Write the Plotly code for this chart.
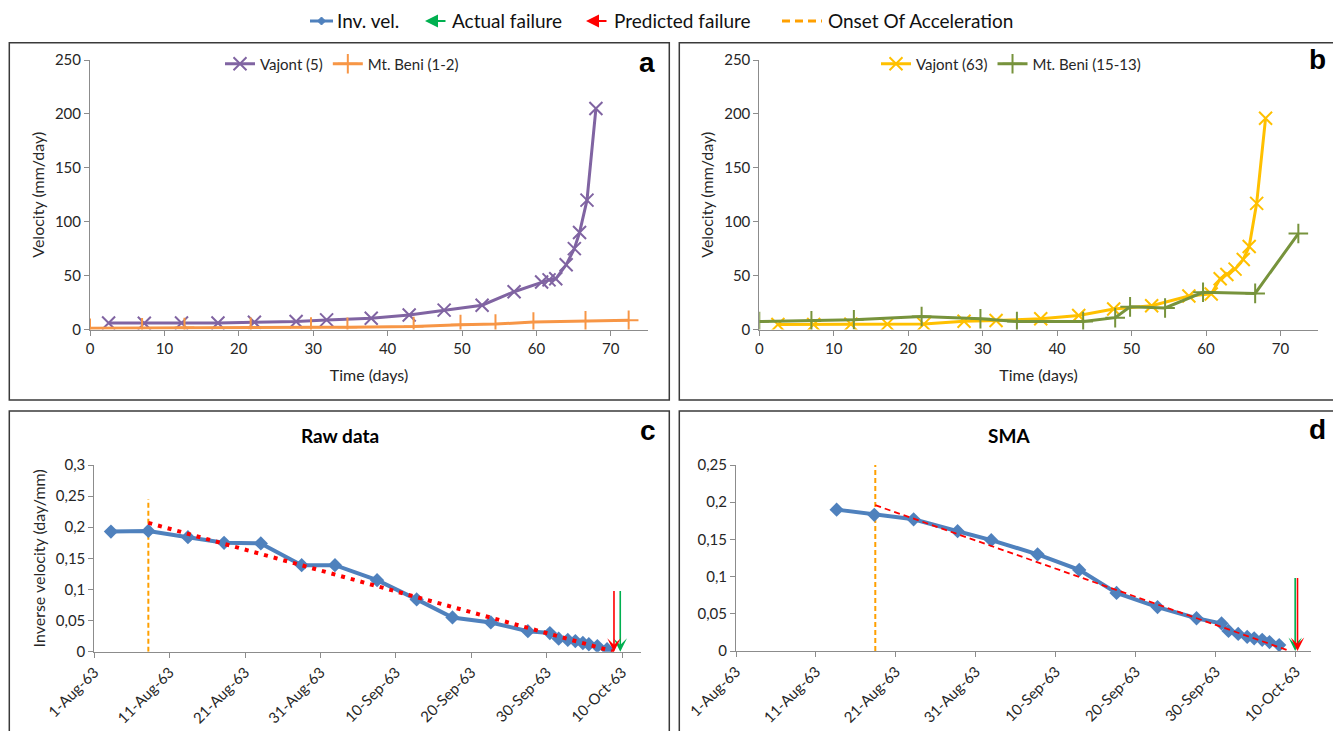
import plotly.graph_objects as go

W, H = 1341, 731
OFF = 8  # page body margin offset


def px(x):
    return (x - OFF) / W


def py(y):
    return 1 - (y - OFF) / H


# ---------------- data ----------------
# Panel a
a_vajont_days = [2.5, 7.3, 12.3, 17.2, 22.1, 27.7, 31.8, 37.8, 42.9, 47.6, 52.7, 57.0,
                 60.7, 61.7, 62.6, 64.0, 65.1, 65.8, 66.8, 68.0]
a_vajont_vel = [6, 5.8, 6, 6, 6.8, 7.4, 8.9, 10.5, 13.5, 18, 22.5, 35,
                44, 46, 47, 60, 75, 90, 120, 205]
a_beni_days = [0, 7.0, 12.7, 21.6, 29.7, 34.6, 43.5, 49.8, 54.5, 59.6, 66.6, 72.4]
a_beni_vel = [1.2, 1.5, 1.8, 2.0, 2.2, 2.0, 2.8, 4.5, 5.0, 7.0, 8.0, 8.5]

# Panel b
b_vajont_days = [2.5, 7.3, 12.3, 17.2, 22.1, 27.5, 31.8, 37.8, 42.9, 47.6, 52.7, 57.7,
                 60.7, 61.9, 62.8, 63.9, 65.0, 65.8, 66.8, 68.0]
b_vajont_vel = [4.6, 4.6, 5, 5, 5, 7.7, 8.3, 10, 13, 19, 22, 31,
                33, 47, 51, 56, 65, 77, 117, 196]
b_beni_days = [0, 7.0, 12.7, 21.8, 29.7, 34.6, 43.5, 47.8, 49.8, 54.5, 59.6, 66.6, 72.4]
b_beni_vel = [7.4, 8, 9, 12, 10, 7.4, 7.4, 11, 21, 20, 34.5, 33.5, 89]

# Panel c (raw data)
c_dates = ["1963-08-03 05:00", "1963-08-08 04:00", "1963-08-13 10:00", "1963-08-18 05:00",
           "1963-08-23 02:00", "1963-08-28 12:00", "1963-09-01 22:00", "1963-09-07 12:00",
           "1963-09-12 18:00", "1963-09-17 12:00", "1963-09-22 14:00", "1963-09-27 12:00",
           "1963-09-30 10:00", "1963-10-01 14:00", "1963-10-02 19:00", "1963-10-03 19:00",
           "1963-10-04 19:00", "1963-10-05 14:00", "1963-10-06 17:00", "1963-10-08 00:00"]
c_inv_vel = [0.193, 0.194, 0.184, 0.175, 0.174, 0.139, 0.139, 0.115, 0.084, 0.055,
             0.047, 0.033, 0.030, 0.021, 0.019, 0.017, 0.014, 0.012, 0.009, 0.004]
c_onset_date = "1963-08-08 04:00"
c_onset_top = 0.245
c_trend_dates = ["1963-08-08 04:00", "1963-10-08 22:00"]
c_trend_vals = [0.207, 0.0]
c_predicted_failure = "1963-10-08 22:00"
c_actual_failure = "1963-10-09 18:00"

# Panel d (SMA)
d_dates = ["1963-08-13 14:00", "1963-08-18 07:00", "1963-08-23 05:00", "1963-08-28 17:00",
           "1963-09-01 22:00", "1963-09-07 17:00", "1963-09-12 22:00", "1963-09-17 14:00",
           "1963-09-22 17:00", "1963-09-27 14:00", "1963-09-30 17:00", "1963-10-01 14:00",
           "1963-10-02 19:00", "1963-10-03 22:00", "1963-10-04 19:00", "1963-10-05 19:00",
           "1963-10-06 17:00", "1963-10-07 22:00"]
d_inv_vel = [0.190, 0.183, 0.177, 0.161, 0.149, 0.130, 0.109, 0.078, 0.059, 0.044,
             0.037, 0.027, 0.023, 0.019, 0.017, 0.015, 0.012, 0.008]
d_onset_date = "1963-08-18 10:00"
d_onset_top = 0.25
d_trend_dates = ["1963-08-18 10:00", "1963-10-09 06:00"]
d_trend_vals = [0.196, 0.0]
d_predicted_failure = "1963-10-10 05:00"
d_actual_failure = "1963-10-09 22:00"

arrow_top = 0.1

# legend labels
top_legend_labels = ["Inv. vel.", "Actual failure", "Predicted failure", "Onset Of Acceleration"]

# ---------------- styles ----------------
PURPLE = "#8064A2"
ORANGE = "#F79646"
YELLOW = "#FFC000"
OLIVE = "#77933C"
BLUE = "#4F81BD"
ONSET = "#FFA000"
RED = "#FF0000"
GREEN = "#00B050"
AXIS = "#8C8C8C"
TXT = "#262626"
FONT = "Lato, 'Liberation Sans', sans-serif"
TICK = 15
TITLE = 16

fig = go.Figure()

# Panel a
fig.add_trace(go.Scatter(x=a_vajont_days, y=a_vajont_vel, name="Vajont (5)", mode="lines+markers",
                         line=dict(color=PURPLE, width=3),
                         marker=dict(symbol="x-thin", size=13, line=dict(color=PURPLE, width=2)),
                         xaxis="x", yaxis="y", legend="legend"))
fig.add_trace(go.Scatter(x=a_beni_days, y=a_beni_vel, name="Mt. Beni (1-2)", mode="lines+markers",
                         line=dict(color=ORANGE, width=3),
                         marker=dict(symbol="cross-thin", size=14, line=dict(color=ORANGE, width=2)),
                         xaxis="x", yaxis="y", legend="legend"))
# Panel b
fig.add_trace(go.Scatter(x=b_vajont_days, y=b_vajont_vel, name="Vajont (63)", mode="lines+markers",
                         line=dict(color=YELLOW, width=3),
                         marker=dict(symbol="x-thin", size=13, line=dict(color=YELLOW, width=2)),
                         xaxis="x2", yaxis="y2", legend="legend2"))
fig.add_trace(go.Scatter(x=b_beni_days, y=b_beni_vel, name="Mt. Beni (15-13)", mode="lines+markers",
                         line=dict(color=OLIVE, width=3),
                         marker=dict(symbol="cross-thin", size=14, line=dict(color=OLIVE, width=2)),
                         xaxis="x2", yaxis="y2", legend="legend2"))

# Panel c
fig.add_trace(go.Scatter(x=[c_onset_date, c_onset_date], y=[0, c_onset_top], mode="lines",
                         line=dict(color=ONSET, width=2, dash="5px,3px"), showlegend=False,
                         xaxis="x3", yaxis="y3"))
fig.add_trace(go.Scatter(x=c_dates, y=c_inv_vel, mode="lines+markers", name="Inv. vel.",
                         line=dict(color=BLUE, width=4),
                         marker=dict(symbol="diamond", size=11, color=BLUE),
                         showlegend=False, xaxis="x3", yaxis="y3"))
fig.add_trace(go.Scatter(x=c_trend_dates, y=c_trend_vals, mode="lines",
                         line=dict(color=RED, width=4, dash="4px,6px"), showlegend=False,
                         xaxis="x3", yaxis="y3"))
# Panel d
fig.add_trace(go.Scatter(x=[d_onset_date, d_onset_date], y=[0, d_onset_top], mode="lines",
                         line=dict(color=ONSET, width=2, dash="5px,3px"), showlegend=False,
                         xaxis="x4", yaxis="y4"))
fig.add_trace(go.Scatter(x=d_dates, y=d_inv_vel, mode="lines+markers", name="Inv. vel.",
                         line=dict(color=BLUE, width=4),
                         marker=dict(symbol="diamond", size=11, color=BLUE),
                         showlegend=False, xaxis="x4", yaxis="y4"))
fig.add_trace(go.Scatter(x=d_trend_dates, y=d_trend_vals, mode="lines",
                         line=dict(color=RED, width=1.8, dash="6px,4px"), showlegend=False,
                         xaxis="x4", yaxis="y4"))

axis_common = dict(showline=True, linecolor=AXIS, linewidth=1, ticks="outside", ticklen=5,
                   tickcolor=AXIS, showgrid=False, zeroline=False, automargin=False,
                   tickfont=dict(size=TICK, color=TXT, family=FONT))

date_axis = dict(type="date", tickformat="%-d-%b-%y", tick0="1963-08-01",
                 dtick=10 * 86400000, tickangle=-45)

fig.update_layout(
    template="none",
    width=W, height=H, margin=dict(l=0, r=0, t=0, b=0, autoexpand=False),
    paper_bgcolor="white", plot_bgcolor="white",
    separators=",.",
    font=dict(family=FONT, size=14, color=TXT),
    showlegend=True,
    legend=dict(orientation="h", x=px(342), xanchor="center", y=py(64), yanchor="middle",
                bgcolor="rgba(0,0,0,0)", font=dict(size=15, color=TXT), itemwidth=30),
    legend2=dict(orientation="h", x=px(1011), xanchor="center", y=py(64), yanchor="middle",
                 bgcolor="rgba(0,0,0,0)", font=dict(size=15, color=TXT), itemwidth=30),
    xaxis=dict(domain=[px(90), px(648)], range=[0, 75], dtick=10, tick0=0, anchor="y",
               title=dict(text="Time (days)", standoff=14, font=dict(size=TITLE)), **axis_common),
    yaxis=dict(domain=[py(329.5), py(60)], range=[0, 250], dtick=50, anchor="x",
               title=dict(text="Velocity (mm/day)", standoff=6, font=dict(size=TITLE)), **axis_common),
    xaxis2=dict(domain=[px(759.3), px(1317.7)], range=[0, 75], dtick=10, tick0=0, anchor="y2",
                title=dict(text="Time (days)", standoff=14, font=dict(size=TITLE)), **axis_common),
    yaxis2=dict(domain=[py(329.5), py(60)], range=[0, 250], dtick=50, anchor="x2",
                title=dict(text="Velocity (mm/day)", standoff=6, font=dict(size=TITLE)), **axis_common),
    xaxis3=dict(domain=[px(94.3), px(641)], range=["1963-08-01", "1963-10-12 12:00"],
                anchor="y3", **date_axis, **axis_common),
    yaxis3=dict(domain=[py(651.7), py(465)], range=[0, 0.3], dtick=0.05, anchor="x3",
                title=dict(text="Inverse velocity (day/mm)", standoff=6, font=dict(size=TITLE)),
                **axis_common),
    xaxis4=dict(domain=[px(736), px(1311)], range=["1963-08-01", "1963-10-11 21:30"],
                anchor="y4", **date_axis, **axis_common),
    yaxis4=dict(domain=[py(651), py(465)], range=[0, 0.25], dtick=0.05, anchor="x4",
                **axis_common),
)

shapes = []
# panel frames
for (x0, y0, x1, y1) in [(9.3, 42.7, 669.3, 400), (679.3, 42.7, 1339.3, 400),
                         (9.3, 411, 669.3, 760), (679.3, 411, 1337.5, 760)]:
    shapes.append(dict(type="rect", xref="paper", yref="paper", x0=px(x0), x1=px(x1),
                       y0=py(y1), y1=py(y0), line=dict(color="#3A3A3A", width=1.5),
                       fillcolor="rgba(0,0,0,0)", layer="above"))
# top legend icons
LY = 21
shapes.append(dict(type="line", xref="paper", yref="paper", x0=px(310), x1=px(333),
                   y0=py(LY), y1=py(LY), line=dict(color=BLUE, width=3)))
cx, r = 321.5, 4
shapes.append(dict(type="path", xref="paper", yref="paper",
                   path=f"M {px(cx - r)},{py(LY)} L {px(cx)},{py(LY - r)} L {px(cx + r)},{py(LY)} "
                        f"L {px(cx)},{py(LY + r)} Z",
                   fillcolor=BLUE, line=dict(color=BLUE, width=1)))
shapes.append(dict(type="line", xref="paper", yref="paper", x0=px(782), x1=px(822),
                   y0=py(LY), y1=py(LY), line=dict(color=ONSET, width=3, dash="8px,5px")))
fig.update_layout(shapes=shapes)

ann = []
# top legend texts
for label, x in zip(top_legend_labels, [335, 450, 612, 826]):
    ann.append(dict(text=label, x=px(x), y=py(LY), xref="paper", yref="paper",
                    xanchor="left", yanchor="middle", showarrow=False,
                    font=dict(size=19, color="#111", family=FONT)))
# top legend arrows
for x, col in [(425, GREEN), (586, RED)]:
    ann.append(dict(text="", x=px(x), y=py(LY), xref="paper", yref="paper", ax=22, ay=0,
                    showarrow=True, arrowhead=2, arrowsize=1.3, arrowwidth=2, arrowcolor=col,
                    standoff=0))
# panel letters
for letter, x, y in [("a", 647, 62), ("b", 1317, 60), ("c", 648, 430), ("d", 1317, 429)]:
    ann.append(dict(text=f"<b>{letter}</b>", x=px(x), y=py(y), xref="paper", yref="paper",
                    xanchor="center", yanchor="middle", showarrow=False,
                    font=dict(size=28, color="black", family="'Liberation Sans', Arial, sans-serif")))
# panel titles
for title, x in [("Raw data", 340), ("SMA", 1009)]:
    ann.append(dict(text=f"<b>{title}</b>", x=px(x), y=py(435), xref="paper", yref="paper",
                    xanchor="center", yanchor="middle", showarrow=False,
                    font=dict(size=19, color="black", family=FONT)))
# failure arrows
for xa, ya, date, col in [("x3", "y3", c_actual_failure, GREEN), ("x3", "y3", c_predicted_failure, RED),
                          ("x4", "y4", d_actual_failure, GREEN), ("x4", "y4", d_predicted_failure, RED)]:
    ann.append(dict(text="", x=date, y=0, ax=date, ay=arrow_top, xref=xa, yref=ya,
                    axref=xa, ayref=ya, showarrow=True, arrowhead=3, arrowsize=1.4,
                    arrowwidth=1.6, arrowcolor=col, standoff=0))
fig.update_layout(annotations=ann)

fig.write_html("out.html")
